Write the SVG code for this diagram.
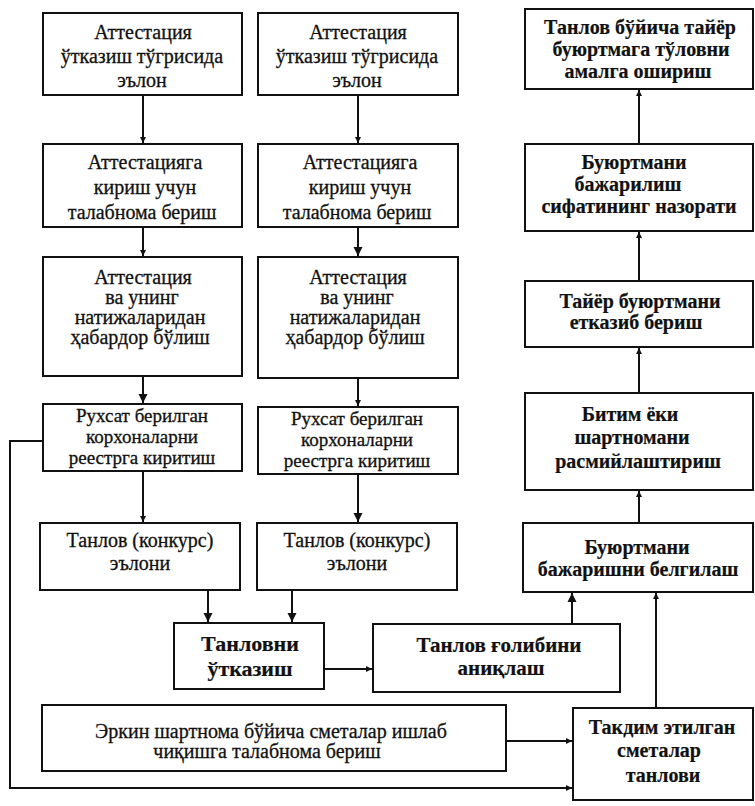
<svg xmlns="http://www.w3.org/2000/svg" width="755" height="806" viewBox="0 0 755 806">
<style>
.box{fill:#fff;stroke:#111;stroke-width:2}
text{font-family:'Liberation Serif','Times New Roman',serif;font-size:20px;fill:#111;text-anchor:middle;stroke:#111;stroke-width:0.3}
.b{font-weight:bold;stroke-width:0.2}
.s{font-size:19px}
.c{fill:none;stroke:#111;stroke-width:2}
</style>
<defs>
<marker id="big" markerWidth="10" markerHeight="10" refX="9" refY="5" orient="auto" markerUnits="userSpaceOnUse"><path d="M0,0.5 L9,5 L0,9.5 Z" fill="#111"/></marker>
<marker id="sm" markerWidth="8" markerHeight="8" refX="6" refY="3.5" orient="auto" markerUnits="userSpaceOnUse"><path d="M0,0.5 L6,3.5 L0,6.5 Z" fill="#111"/></marker>
</defs>
<rect width="755" height="806" fill="#fff"/>
<g id="connectors">
<line class="c" x1="143" y1="95" x2="143" y2="143" marker-end="url(#sm)"/>
<line class="c" x1="143" y1="227" x2="143" y2="256" marker-end="url(#sm)"/>
<line class="c" x1="143" y1="376" x2="143" y2="403" marker-end="url(#big)"/>
<line class="c" x1="143" y1="471" x2="143" y2="522" marker-end="url(#sm)"/>
<line class="c" x1="358" y1="95" x2="358" y2="143" marker-end="url(#sm)"/>
<line class="c" x1="358" y1="227" x2="358" y2="256" marker-end="url(#big)"/>
<line class="c" x1="358" y1="378" x2="358" y2="406" marker-end="url(#sm)"/>
<line class="c" x1="358" y1="474" x2="358" y2="522" marker-end="url(#big)"/>
<line class="c" x1="208" y1="590" x2="208" y2="622" marker-end="url(#big)"/>
<line class="c" x1="292" y1="590" x2="292" y2="622" marker-end="url(#big)"/>
<line class="c" x1="324" y1="669" x2="372" y2="669" marker-end="url(#sm)"/>
<line class="c" x1="572" y1="624" x2="572" y2="593" marker-end="url(#big)"/>
<line class="c" x1="656" y1="708" x2="656" y2="593" marker-end="url(#sm)"/>
<line class="c" x1="639" y1="523" x2="639" y2="491" marker-end="url(#sm)"/>
<line class="c" x1="639" y1="393" x2="639" y2="348" marker-end="url(#sm)"/>
<line class="c" x1="639" y1="281" x2="639" y2="232" marker-end="url(#sm)"/>
<line class="c" x1="639" y1="144" x2="639" y2="90" marker-end="url(#sm)"/>
<line class="c" x1="506" y1="741" x2="572" y2="741" marker-end="url(#sm)"/>
<polyline class="c" points="43,441 10,441 10,788 572,788" marker-end="url(#sm)"/>
</g>
<g id="a1"><rect class="box" x="43" y="13" width="199" height="82"/>
<text x="143" y="39">Аттестация</text><text x="142" y="63">ўтказиш тўгрисида</text><text x="142" y="87">эълон</text></g>
<g id="a2"><rect class="box" x="43" y="144" width="199" height="83"/>
<text x="145" y="169">Аттестацияга</text><text x="145" y="194">кириш учун</text><text x="142" y="219">талабнома бериш</text></g>
<g id="a3"><rect class="box" x="43" y="257" width="199" height="119"/>
<text x="143" y="284">Аттестация</text><text x="142" y="304">ва унинг</text><text x="140" y="324">натижаларидан</text><text x="140" y="344">ҳабардор бўлиш</text></g>
<g id="a4"><rect class="box" x="43" y="404" width="199" height="67"/>
<text class="s" x="142" y="422">Рухсат берилган</text><text class="s" x="142" y="443">корхоналарни</text><text class="s" x="142" y="464">реестрга киритиш</text></g>
<g id="a5"><rect class="box" x="40" y="523" width="200" height="67"/>
<text x="140" y="547">Танлов (конкурс)</text><text x="140" y="570">эълони</text></g>
<g id="b1"><rect class="box" x="258" y="13" width="200" height="82"/>
<text x="358" y="39">Аттестация</text><text x="357" y="63">ўтказиш тўгрисида</text><text x="357" y="87">эълон</text></g>
<g id="b2"><rect class="box" x="258" y="144" width="200" height="83"/>
<text x="360" y="169">Аттестацияга</text><text x="360" y="194">кириш учун</text><text x="357" y="219">талабнома бериш</text></g>
<g id="b3"><rect class="box" x="258" y="257" width="200" height="121"/>
<text x="358" y="284">Аттестация</text><text x="357" y="304">ва унинг</text><text x="355" y="324">натижаларидан</text><text x="355" y="344">ҳабардор бўлиш</text></g>
<g id="b4"><rect class="box" x="258" y="407" width="200" height="67"/>
<text class="s" x="357" y="425">Рухсат берилган</text><text class="s" x="357" y="446">корхоналарни</text><text class="s" x="357" y="467">реестрга киритиш</text></g>
<g id="b5"><rect class="box" x="257" y="523" width="200" height="67"/>
<text x="357" y="547">Танлов (конкурс)</text><text x="357" y="570">эълони</text></g>
<g id="c1"><rect class="box" x="525" y="9" width="228" height="80"/>
<text class="b" x="640" y="34">Танлов бўйича тайёр</text><text class="b" x="641" y="56">буюртмага тўловни</text><text class="b" x="638" y="78">амалга ошириш</text></g>
<g id="c2"><rect class="box" x="525" y="144" width="228" height="87"/>
<text class="b" x="634" y="169">Буюртмани</text><text class="b" x="628" y="191">бажарилиш</text><text class="b" x="639" y="213">сифатининг назорати</text></g>
<g id="c3"><rect class="box" x="525" y="281" width="228" height="66"/>
<text class="b" x="640" y="308">Тайёр буюртмани</text><text class="b" x="636" y="329">етказиб бериш</text></g>
<g id="c4"><rect class="box" x="525" y="393" width="228" height="97"/>
<text class="b" x="630" y="421">Битим ёки</text><text class="b" x="632" y="444">шартномани</text><text class="b" x="638" y="468">расмийлаштириш</text></g>
<g id="c5"><rect class="box" x="523" y="523" width="230" height="69"/>
<text class="b" x="637" y="554">Буюртмани</text><text class="b" x="638" y="576">бажаришни белгилаш</text></g>
<g id="tanlovni"><rect class="box" x="174" y="623" width="150" height="66"/>
<text class="b" x="250" y="651" style="font-size:22px">Танловни</text><text class="b" x="250" y="676" style="font-size:22px">ўтказиш</text></g>
<g id="golib"><rect class="box" x="373" y="624" width="247" height="68"/>
<text class="b" x="499" y="652" style="font-size:21px">Танлов ғолибини</text><text class="b" x="501" y="675" style="font-size:21px">аниқлаш</text></g>
<g id="erkin"><rect class="box" x="42" y="705" width="464" height="66"/>
<text x="271" y="738">Эркин шартнома бўйича сметалар ишлаб</text><text x="267" y="758">чиқишга талабнома бериш</text></g>
<g id="taqdim"><rect class="box" x="573" y="708" width="180" height="92"/>
<text class="b" x="662" y="734">Такдим этилган</text><text class="b" x="659" y="757">сметалар</text><text class="b" x="663" y="782">танлови</text></g>
</svg>
